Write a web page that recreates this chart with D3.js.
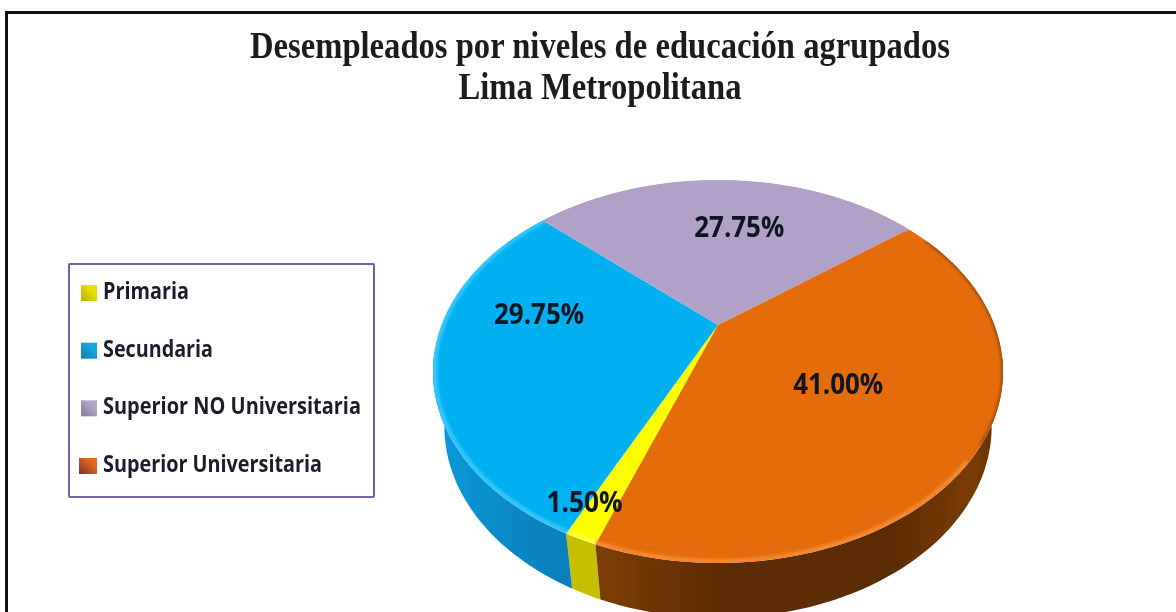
<!DOCTYPE html>
<html><head><meta charset="utf-8">
<script src="https://cdnjs.cloudflare.com/ajax/libs/d3/7.8.5/d3.min.js"></script>
<style>html,body{margin:0;padding:0;background:#fff;overflow:hidden}svg{display:block}</style>
</head><body><svg id="c" width="1176" height="612"></svg>
<script>
const categories = ["Primaria","Secundaria","Superior NO Universitaria","Superior Universitaria"];
const shares = [1.50,29.75,27.75,41.00];
const titleLines = ["Desempleados por niveles de educación agrupados","Lima Metropolitana"];

const topColors = ["#ffff00","#00b0f0","#b1a0c7","#e46c0a"];
const rimColors = ["#ffff40","#38c8ff","#b1a0c7","#f58a30"];
const swatchLight = ["#e8e000","#18a8e0","#b0a8c4","#e06a20"];
const swatchDark = ["#b8b000","#1078a8","#807898","#803020"];

const svg = d3.select("#c"), defs = svg.append("defs");
const deg = Math.PI/180;

/* perspective projection of the unit disc onto the page */
const cx=718, cy=325, W=276.5, K=-0.2428, A=101.3, depth=55, shrink=0.96;
function proj(r,a){ const u=r*Math.sin(a), v=-r*Math.cos(a), d=1+K*v;
  return [cx+W*u/d,(cy+A*v)/d]; }
function projLow(r,a){ const p=proj(r,a); return [cx+(p[0]-cx)*shrink,p[1]+depth]; }
const line=d3.line();
const samples=(a,b)=>d3.range(0,61).map(i=>a+(b-a)*i/60);

const pieStart=200;
const pie=d3.pie().sort(null).startAngle(pieStart*deg).endAngle((pieStart+360)*deg);
const arcs=pie(shares);
const frontFrom=100*deg, frontTo=262*deg;

defs.append("filter").attr("id","soft").attr("x","-5%").attr("y","-5%").attr("width","110%").attr("height","110%")
  .append("feGaussianBlur").attr("stdDeviation",1.6);
defs.append("filter").attr("id","txt").append("feGaussianBlur").attr("stdDeviation",0.4);

const wallStops=[
  [[0,"#c4c000"],[1,"#c8c400"]],
  [[0,"#0a98d6"],[0.5,"#0a86c4"],[1,"#0a7cb4"]],
  [[0,"#8a80a0"],[1,"#8a80a0"]],
  [[0,"#7c3e06"],[0.3,"#5c2c04"],[0.72,"#5c2c04"],[0.93,"#7a3c05"],[1,"#5a2a03"]]];
wallStops.forEach((s,i)=>{
  const g=defs.append("linearGradient").attr("id","wall"+i).attr("gradientUnits","userSpaceOnUse")
    .attr("x1",i==1?445:600).attr("x2",i==1?600:1003).attr("y1",0).attr("y2",0);
  s.forEach(t=>g.append("stop").attr("offset",t[0]).attr("stop-color",t[1]));
});

/* side wall */
const gw=svg.append("g");
arcs.forEach((d,i)=>{
  const cands=[[d.startAngle,d.endAngle],[d.startAngle-2*Math.PI,d.endAngle-2*Math.PI]];
  cands.forEach(([s,e])=>{
    const a=Math.max(s,frontFrom), b=Math.min(e,frontTo);
    if(b<=a) return;
    const up=samples(a,b).map(t=>proj(1,t));
    const lo=samples(b,a).map(t=>projLow(1,t));
    gw.append("path").attr("d",line(up.concat(lo))+"Z").attr("fill",`url(#wall${i})`);
  });
});

/* top face */
const full=d3.range(0,361).map(t=>proj(1,t*deg));
defs.append("clipPath").attr("id","disc").append("path").attr("d",line(full)+"Z");
const gt=svg.append("g").attr("clip-path","url(#disc)");
arcs.forEach((d,i)=>{
  const pts=[proj(0,0)].concat(samples(d.startAngle,d.endAngle).map(t=>proj(1,t)));
  gt.append("path").attr("d",line(pts)+"Z").attr("fill",topColors[i]);
});
arcs.forEach((d,i)=>{
  const from=d.startAngle, to=d.endAngle;
  const [s,e]= i==3 ? [130*deg, to-2*Math.PI] : [from,to];
  gt.append("path").attr("d",line(samples(s,e).map(t=>proj(0.995,t))))
    .attr("fill","none").attr("stroke",rimColors[i]).attr("stroke-width",5).attr("filter","url(#soft)");
});
gt.append("path").attr("d",line(samples(58*deg,125*deg).map(t=>proj(1,t))))
  .attr("fill","none").attr("stroke","#94480a").attr("stroke-width",3.5).attr("filter","url(#soft)");

/* frame */
svg.append("path").attr("d","M6.5,612V12.5H1176").attr("fill","none").attr("stroke","#111").attr("stroke-width",3);

/* title */
const titleWidths=[700,283];
svg.append("g").attr("filter","url(#txt)").selectAll("text").data(titleLines).join("text")
  .attr("x",600).attr("y",(d,i)=>58+i*41).attr("text-anchor","middle")
  .attr("font-family","'Liberation Serif',serif").attr("font-weight","bold").attr("font-size",37).attr("fill","#1c1c1c")
  .attr("textLength",(d,i)=>titleWidths[i]).attr("lengthAdjust","spacingAndGlyphs").text(d=>d);

/* legend */
svg.append("rect").attr("x",69).attr("y",264).attr("width",305).attr("height",233).attr("rx",1)
  .attr("fill","#fff").attr("stroke","#7b5ea8").attr("stroke-width",2);
categories.forEach((c,i)=>{
  const g=defs.append("linearGradient").attr("id","sw"+i).attr("x1",1).attr("y1",0).attr("x2",0).attr("y2",1);
  g.append("stop").attr("offset",0.3).attr("stop-color",swatchLight[i]);
  g.append("stop").attr("offset",1).attr("stop-color",swatchDark[i]);
});
const legendY=d3.scalePoint().domain(categories).range([299,472]);
const lg=svg.append("g").attr("filter","url(#txt)");
lg.selectAll("rect").data(categories).join("rect")
  .attr("x",(d,i)=>i==3?79:81).attr("y",d=>legendY(d)-14).attr("width",(d,i)=>i==3?18:16).attr("height",16)
  .attr("fill",(d,i)=>`url(#sw${i})`);
const legendWidths=[86,110,258,219];
lg.selectAll("text").data(categories).join("text")
  .attr("x",103).attr("y",d=>legendY(d)).attr("font-family","'Open Sans',sans-serif").attr("font-weight",700)
  .attr("font-size",23).attr("fill","#1c1c2a")
  .attr("textLength",(d,i)=>legendWidths[i]).attr("lengthAdjust","spacingAndGlyphs").text(d=>d);

/* value labels: polar placement on the projected disc */
const labelR=[0.885,0.66,0.633,0.505], labelTurn=[3.4,16.5,5.6,1];
svg.append("g").attr("filter","url(#txt)").selectAll("text").data(arcs).join("text")
  .each(function(d,i){
    const p=proj(labelR[i],(d.startAngle+d.endAngle)/2+labelTurn[i]*deg);
    d3.select(this).attr("x",p[0]).attr("y",p[1]+10);
  })
  .attr("text-anchor","middle").attr("font-family","'Open Sans',sans-serif").attr("font-weight",700)
  .attr("font-size",29).attr("fill","#0c1420")
  .attr("textLength",(d,i)=>i==0?76:90).attr("lengthAdjust","spacingAndGlyphs")
  .text(d=>d.value.toFixed(2)+"%");
</script></body></html>
